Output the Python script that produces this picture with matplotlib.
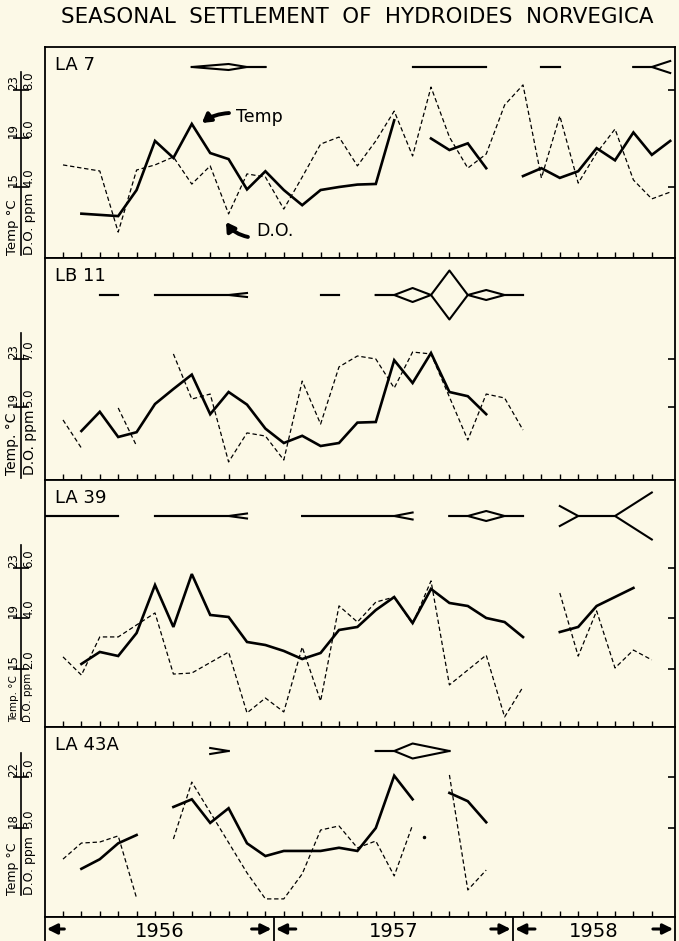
import matplotlib
matplotlib.use('Agg')
import matplotlib.pyplot as plt

# x axis: sample number at 4-week intervals (tick 0 = first tick of the 1956 record)
year_names = ['1956', '1957', '1958']
year_bounds = [11.45, 24.45]
n_ticks = 33

# ---- LA 7 ----
la7_temp_x = [list(range(1, 19)), list(range(20, 24)), list(range(25, 34))]
la7_temp = [[12.8, 12.7, 12.6, 14.75, 18.8, 17.4, 20.2, 17.8, 17.3, 14.8, 16.3, 14.75,
             13.5, 14.75, 15.0, 15.2, 15.25, 20.5],
            [19.0, 18.05, 18.6, 16.55],
            [15.9, 16.55, 15.75, 16.3, 18.2, 17.2, 19.5, 17.65, 18.8]]
la7_do_x = [[0] + list(range(2, 34))]
la7_do = [[4.91, 4.66, 2.14, 4.70, 4.91, 5.24, 4.12, 4.87, 2.89, 4.54, 4.41, 3.09, 4.41,
           5.77, 6.06, 4.87, 5.90, 7.13, 5.28, 8.12, 6.06, 4.78, 5.36, 7.38, 8.21, 4.37,
           6.93, 4.16, 5.40, 6.39, 4.29, 3.51, 3.79]]
la7_kite_x = [[7, 9, 10, 11], [19, 23], [26, 27], [31, 32, 33]]
la7_kite_w = [[0, 3, 0, 0], [0, 0], [0, 0], [0, 0, 6]]

# ---- LB 11 ----
lb11_temp_x = [list(range(1, 24))]
lb11_temp = [[17.0, 18.6, 16.5, 16.9, 19.25, 20.5, 21.7, 18.4, 20.25, 19.2, 17.2, 16.0,
              16.6, 15.75, 16.0, 17.7, 17.75, 22.9, 21.0, 23.5, 20.25, 19.9, 18.4]]
lb11_do_x = [[0, 1], [3, 4], list(range(6, 21)) + [22, 23, 24, 25]]
lb11_do = [[4.46, 3.29], [4.96, 3.375],
           [7.21, 5.33, 5.54, 2.71, 3.92, 3.79, 2.79, 6.08, 4.29, 6.67, 7.125, 7.0, 5.79,
            7.29, 7.21, 3.625, 5.54, 5.375, 4.04]]
lb11_kite_x = [[2, 3], [5, 9, 10], [14, 15], [17, 18, 19, 20, 21, 22, 23, 24, 25]]
lb11_kite_w = [[0, 0], [0, 0, 2], [0, 0], [0, 0, 7, 0, 24.5, 0, 5, 0, 0]]

# ---- LA 39 ----
la39_temp_x = [list(range(1, 26)), [27, 28, 29, 31]]
la39_temp = [[15.4, 16.35, 16.03, 17.85, 21.65, 18.33, 22.52, 19.28, 19.12, 17.14, 16.9,
              16.43, 15.79, 16.27, 18.09, 18.33, 19.67, 20.7, 18.64, 21.34, 20.23, 19.99,
              19.04, 18.72, 17.53],
             [17.93, 18.33, 19.99, 21.42]]
la39_do_x = [[0, 1, 2, 3, 5, 6, 7, 9, 10, 11, 12, 13, 14, 15, 16, 17, 18, 19, 20, 21, 23, 24, 25],
             list(range(27, 33))]
la39_do = [[2.48, 1.76, 3.27, 3.27, 4.22, 1.80, 1.84, 2.67, 0.26, 0.85, 0.30, 2.87, 0.73,
            4.50, 3.86, 4.65, 4.85, 3.78, 5.49, 1.37, 2.55, 0.10, 1.29],
           [5.01, 2.51, 4.30, 2.04, 2.75, 2.36]]
la39_kite_x = [[-1, 3], [5, 9, 10], [13, 18, 19], [21, 22, 23, 24, 25], [27, 28, 30, 32]]
la39_kite_w = [[0, 0], [0, 0, 2.5], [0, 0, 3.5], [0, 0, 5, 0, 0], [10, 0, 0, 23.5]]

# ---- LA 43A ----
la43_temp_x = [[1, 2, 3, 4], list(range(6, 20)), [21, 22, 23]]
la43_temp = [[14.8, 15.55, 16.8, 17.45],
             [19.65, 20.25, 18.4, 19.55, 16.8, 15.8, 16.2, 16.2, 16.2, 16.45, 16.2, 18.0,
              22.1, 20.25],
             [20.75, 20.1, 18.45]]
la43_do_x = [[0, 1, 2, 3, 4], [6, 7] + list(range(10, 20)), [19.6], [21, 22, 23]]
la43_do = [[1.78, 2.41, 2.45, 2.69, 0.25],
           [2.57, 4.80, 1.24, 0.22, 0.22, 1.20, 2.92, 3.08, 2.22, 2.49, 1.12, 3.12],
           [2.65],
           [5.08, 0.57, 1.35]]
la43_kite_x = [[8, 9], [17, 18, 19, 21]]
la43_kite_w = [[3, 0], [0, 0, 7.5, 0]]

stations = ['LA 7', 'LB 11', 'LA 39', 'LA 43A']
temp_ticks = [[15, 19, 23], [19, 23], [15, 19, 23], [18, 22]]
do_ticks = [[4.0, 6.0, 8.0], [5.0, 7.0], [2.0, 4.0, 6.0], [3.0, 5.0]]
right_ticks = [[15, 23], [19, 23], [15, 19, 23], [18, 22]]
temp_names = ['Temp °C', 'Temp. °C', 'Temp. °C', 'Temp °C']

series = [
    (la7_temp_x, la7_temp, la7_do_x, la7_do, la7_kite_x, la7_kite_w),
    (lb11_temp_x, lb11_temp, lb11_do_x, lb11_do, lb11_kite_x, lb11_kite_w),
    (la39_temp_x, la39_temp, la39_do_x, la39_do, la39_kite_x, la39_kite_w),
    (la43_temp_x, la43_temp, la43_do_x, la43_do, la43_kite_x, la43_kite_w),
]

# layout (pixel rows of each panel, axis limits matched to the printed scales)
W, H = 679, 941
BG = '#fcf9e7'
LEFT, WIDTH = 45 / W, 630 / W
XLIM = (-0.978, 33.26)
SCALE_X = (21 - 45) / 630
rows = [(47, 258), (258, 480), (480, 727), (727, 917)]
temp_lims = [(9.144, 26.546), (12.917, 31.417), (10.406, 29.97), (11.02, 25.92)]
do_lims = [(1.072, 9.773), (1.958, 11.208), (-0.297, 9.485), (-0.49, 6.96)]
kite_lims = [(-191, 20), (-185, 37), (-211, 36), (-166, 24)]
scale_spans = [(9.39, 24.5), (13.08, 25.2), (10.96, 24.8), (12.75, 23.9)]
name_y = [0.014, 0.022, 0.02, 0.116]
name_size = [9.5, 10, 7.5, 9]

fig = plt.figure(figsize=(W / 100, H / 100), dpi=100, facecolor=BG)
fig.text(357 / W, 1 - 17 / H, 'SEASONAL  SETTLEMENT  OF  HYDROIDES  NORVEGICA',
         ha='center', va='center', fontsize=15.4)

dash = (0, (3.5, 2.2))
for i, (tx, tv, dx, dv, kx, kw) in enumerate(series):
    top, bot = rows[i]
    ax = fig.add_axes([LEFT, 1 - bot / H, WIDTH, (bot - top) / H])
    ax.set_facecolor(BG)
    tax = ax.twinx()
    dax = ax.twinx()
    kax = ax.twinx()
    for a in (tax, dax, kax):
        for s in a.spines.values():
            s.set_visible(False)
    for s in ax.spines.values():
        s.set_linewidth(1.3)

    ax.set_xlim(XLIM)
    ax.set_ylim(temp_lims[i])
    tax.set_ylim(temp_lims[i])
    dax.set_ylim(do_lims[i])
    kax.set_ylim(kite_lims[i])

    ax.set_xticks(range(n_ticks))
    ax.tick_params(axis='x', direction='in', length=4.5, width=1, labelbottom=False)
    ax.yaxis.set_ticks_position('right')
    ax.set_yticks(right_ticks[i])
    ax.tick_params(axis='y', direction='in', length=5, width=1.2,
                   labelleft=False, labelright=False)

    # side scale: temp labels left of the bar, D.O. labels right of it
    tax.yaxis.set_ticks_position('left')
    sp = tax.spines['left']
    sp.set_visible(True)
    sp.set_linewidth(1.2)
    sp.set_position(('axes', SCALE_X))
    sp.set_bounds(*scale_spans[i])
    tax.set_yticks(temp_ticks[i], labels=[str(t) for t in temp_ticks[i]])
    tax.tick_params(axis='y', direction='inout', length=11, width=1.2, pad=-4.6,
                    labelsize=8.5, labelrotation=90)
    for lab in tax.get_yticklabels():
        lab.set_va('bottom')

    dax.spines['right'].set_position(('axes', SCALE_X))
    dax.set_yticks(do_ticks[i], labels=[f'{d:.1f}' for d in do_ticks[i]])
    dax.tick_params(axis='y', direction='in', length=0, pad=1.0,
                    labelsize=8.5, labelrotation=90)
    for lab in dax.get_yticklabels():
        lab.set_va('bottom')

    ax.text(SCALE_X - 0.003, name_y[i], temp_names[i], transform=ax.transAxes,
            rotation=90, ha='right', va='bottom', fontsize=name_size[i], clip_on=False)
    ax.text(SCALE_X + 0.003, name_y[i], 'D.O. ppm', transform=ax.transAxes,
            rotation=90, ha='left', va='bottom', fontsize=name_size[i], clip_on=False)

    for xs, ys in zip(tx, tv):
        ax.plot(xs, ys, color='black', lw=1.9, solid_joinstyle='miter')
    for xs, ys in zip(dx, dv):
        if len(xs) == 1:
            dax.plot(xs, ys, 'o', color='black', ms=1.5)
        else:
            dax.plot(xs, ys, color='black', lw=0.9, linestyle=dash)

    kax.set_yticks([])
    for xs, ws in zip(kx, kw):
        kax.plot(xs, ws, color='black', lw=1.5)
        kax.plot(xs, [-w for w in ws], color='black', lw=1.5)

    ax.annotate(stations[i], xy=(0, 1), xycoords='axes fraction', xytext=(10, -9),
                textcoords='offset pixels', ha='left', va='top', fontsize=13)

    if i == 0:
        ax.text(9.4, 20.8, 'Temp', ha='left', va='center', fontsize=12.5)
        ax.annotate('', xy=(7.55, 20.28), xytext=(9.02, 21.1),
                    arrowprops=dict(arrowstyle='-|>,head_length=0.5,head_width=0.3',
                                    connectionstyle='arc3,rad=0.15', lw=2.8,
                                    color='black', shrinkA=0, shrinkB=0))
        ax.text(10.49, 11.37, 'D.O.', ha='left', va='center', fontsize=12.5)
        ax.annotate('', xy=(8.86, 12.11), xytext=(10.05, 10.88),
                    arrowprops=dict(arrowstyle='-|>,head_length=0.5,head_width=0.3',
                                    connectionstyle='arc3,rad=-0.2', lw=2.8,
                                    color='black', shrinkA=0, shrinkB=0))

# year strip
yax = fig.add_axes([LEFT, 0, WIDTH, 24 / H])
yax.set_facecolor(BG)
yax.set_xlim(XLIM)
yax.set_ylim(0, 1)
yax.spines['bottom'].set_visible(False)
for s in yax.spines.values():
    s.set_linewidth(1.3)
yax.set_xticks([])
yax.set_yticks([])
edges = [XLIM[0]] + year_bounds + [XLIM[1]]
for name, a, b in zip(year_names, edges[:-1], edges[1:]):
    yax.text((a + b) / 2, 0.38, name, ha='center', va='center', fontsize=14)
arrow = dict(arrowstyle='-|>,head_length=0.6,head_width=0.3', lw=2.2, color='black',
             shrinkA=0, shrinkB=0)
yax.annotate('', xy=(XLIM[0] + 0.1, 0.5), xytext=(XLIM[0] + 1.05, 0.5), arrowprops=arrow)
yax.annotate('', xy=(XLIM[1] - 0.1, 0.5), xytext=(XLIM[1] - 1.2, 0.5), arrowprops=arrow)
for b in year_bounds:
    yax.axvline(b, color='black', lw=1.3)
    yax.annotate('', xy=(b - 0.12, 0.5), xytext=(b - 1.2, 0.5), arrowprops=arrow)
    yax.annotate('', xy=(b + 0.12, 0.5), xytext=(b + 1.2, 0.5), arrowprops=arrow)

fig.savefig('out.png', dpi=100, facecolor=BG)
